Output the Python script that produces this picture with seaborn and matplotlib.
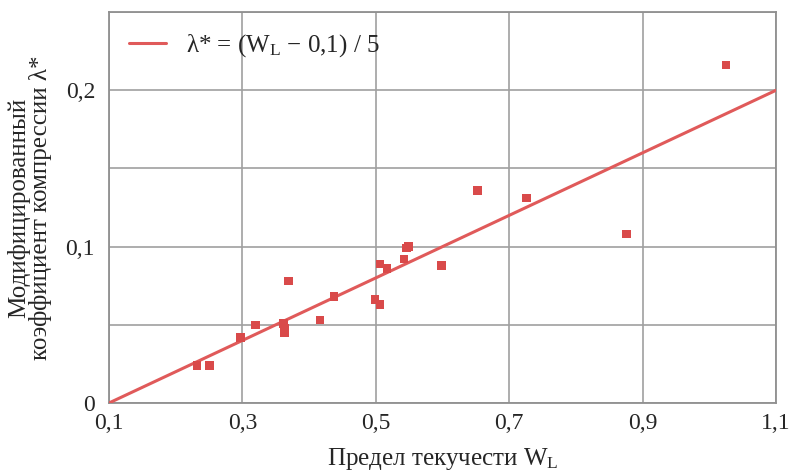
import numpy as np
import pandas as pd
import matplotlib
matplotlib.use("Agg")
import matplotlib.pyplot as plt
from matplotlib.ticker import MultipleLocator, FuncFormatter
import seaborn as sns

# measured points: liquid limit W_L vs modified compression index
wl = [0.232, 0.251, 0.297, 0.320, 0.369, 0.362, 0.363, 0.363, 0.416, 0.437,
      0.506, 0.499, 0.506, 0.517, 0.542, 0.546, 0.549, 0.598, 0.652, 0.726,
      1.025, 0.876]
lam = [0.024, 0.024, 0.042, 0.050, 0.078, 0.051, 0.048, 0.045, 0.053, 0.068,
       0.089, 0.066, 0.063, 0.086, 0.092, 0.099, 0.100, 0.088, 0.136, 0.131,
       0.216, 0.108]

# fitted line lambda* = (W_L - 0,1) / 5
wl_line = np.array([0.1, 1.1])
lam_line = (wl_line - 0.1) / 5

x_ticks = [0.1, 0.3, 0.5, 0.7, 0.9, 1.1]
y_ticks = [0.0, 0.1, 0.2]

sns.set_style("white")
plt.rcParams["font.family"] = ["Liberation Serif", "DejaVu Serif"]
plt.rcParams["mathtext.fontset"] = "custom"
plt.rcParams["mathtext.rm"] = "Liberation Serif"
plt.rcParams["mathtext.it"] = "Liberation Serif:italic"

df = pd.DataFrame({"wl": wl, "lam": lam})
line_df = pd.DataFrame({"wl": wl_line, "lam": lam_line})

fig = plt.figure(figsize=(7.92, 4.75), dpi=100)
ax = fig.add_axes([0.1376, 0.1516, 0.8424, 0.8231])

sns.lineplot(data=line_df, x="wl", y="lam", ax=ax, color="#e05a5a", lw=2.2,
             label=r"λ* = (W$_\mathrm{L}$ − 0,1) / 5", zorder=3)
sns.scatterplot(data=df, x="wl", y="lam", ax=ax, marker="s", s=38,
                color="#d94a4a", edgecolor="none", zorder=4)

ax.set_xlim(0.1, 1.1)
ax.set_ylim(0, 0.25)
ax.set_xticks(x_ticks)
ax.set_yticks(y_ticks)
ax.yaxis.set_minor_locator(MultipleLocator(0.05))
fmt = FuncFormatter(lambda v, p: "0" if abs(v) < 1e-9 else f"{v:.1f}".replace(".", ","))
ax.xaxis.set_major_formatter(fmt)
ax.yaxis.set_major_formatter(fmt)
ax.grid(True, which="both", color="#a0a0a0", lw=1.2)
ax.tick_params(which="both", length=0, labelsize=17)
ax.tick_params(axis="x", pad=7)
ax.tick_params(axis="y", pad=10)
for sp in ax.spines.values():
    sp.set_color("#909090")
    sp.set_linewidth(1.3)

ax.set_xlabel(r"Предел текучести W$_\mathrm{L}$", fontsize=18, labelpad=9)
ax.set_ylabel("Модифицированный\nкоэффициент компрессии λ*", fontsize=18,
              linespacing=0.9, labelpad=10)

leg = ax.legend(loc="upper left", frameon=False, fontsize=18,
                handlelength=1.5, borderaxespad=0.4)

fig.savefig("out.png", dpi=100)
